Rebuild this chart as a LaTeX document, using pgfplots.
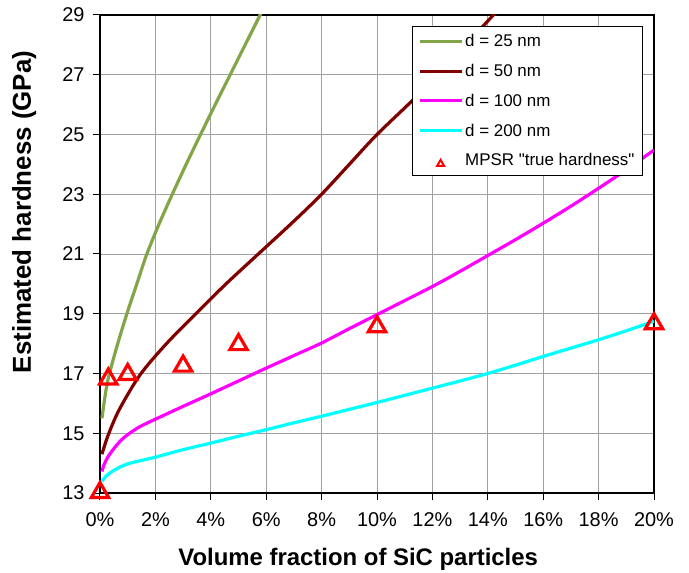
\documentclass[border=0pt]{standalone}
\usepackage{fontspec}
\setmainfont{Liberation Sans}[Ligatures=TeXOff]
\usepackage{pgfplots}
\pgfplotsset{compat=1.18}
\definecolor{olivec}{RGB}{130,165,72}
\definecolor{maroonc}{RGB}{128,0,0}
\definecolor{magc}{RGB}{255,0,255}
\definecolor{cyanc}{RGB}{0,255,255}
\definecolor{gridc}{RGB}{160,160,160}
\pgfplotsset{lineleg/.style={legend image code/.code={\draw[##1] (0bp,0bp) -- (42bp,0bp);}}}
\begin{document}
\begin{tikzpicture}
\begin{axis}[
  scale only axis, width=554bp, height=478bp,
  xmin=0, xmax=20, ymin=13, ymax=29,
  xtick={0,2,...,20}, ytick={13,15,...,29},
  xticklabels={0\%,2\%,4\%,6\%,8\%,10\%,12\%,14\%,16\%,18\%,20\%},
  /pgf/number format/assume math mode=true,
  grid=major, grid style={color=gridc, line width=0.8bp},
  axis line style={black, line width=1.6bp},
  tick align=outside, major tick length=7bp, tick pos=left,
  tick style={black, line width=1bp},
  tick label style={font=\fontsize{20}{20}\selectfont},
  xticklabel style={yshift=-9bp},
  yticklabel style={xshift=-5bp},
  xlabel={Volume fraction of SiC particles},
  xlabel style={font=\fontsize{24}{24}\selectfont\bfseries, at={(axis description cs:0.466,-0.139)}, anchor=center},
  ylabel={Estimated hardness (GPa)},
  ylabel style={font=\fontsize{26}{26}\selectfont\bfseries, at={(axis description cs:-0.137,0.588)}, anchor=center},
  clip mode=individual,
  legend style={at={(rel axis cs:0.98,0.977)}, anchor=north east, draw=black, line width=1bp, fill=white,
    font=\fontsize{17}{17}\selectfont, row sep=12bp, inner xsep=6bp, inner ysep=6bp},
  legend cell align=left,
]
\addplot[olivec, line width=3.2bp, smooth, lineleg] coordinates {
(0.07,15.5) (0.2,16.35) (0.33,16.96) (0.64,18.0) (0.96,18.97) (1.33,20.0) (1.68,20.97) (2.13,22.0) (2.61,23.0) (3.11,24.0) (3.63,25.0) (4.16,26.0) (4.70,27.0) (5.24,28.0) (5.78,29.0) (6.0,29.4)
};
\addlegendentry{d = 25 nm}
\addplot[maroonc, line width=3.2bp, smooth, lineleg] coordinates {
(0.07,14.3) (0.3,14.95) (0.7,15.8) (1.45,16.96) (2.4,18.0) (3.43,18.97) (4.55,20.0) (5.68,20.97) (7.0,22.1) (8.0,23.0) (9.0,24.0) (10.0,25.0) (11.4,26.25) (12.8,27.6) (14.2,29.0) (14.5,29.3)
};
\addlegendentry{d = 50 nm}
\addplot[magc, line width=3.2bp, smooth, lineleg] coordinates {
(0.07,13.72) (0.15,13.95) (0.3,14.23) (0.6,14.6) (0.9,14.88) (1.4,15.2) (2,15.47) (3,15.9) (4,16.32) (5,16.75) (6,17.18) (7,17.6) (8,18.02) (9,18.5) (10,18.97) (11,19.44) (12,19.91) (13,20.42) (14,20.95) (15,21.48) (16,22.03) (17,22.6) (18,23.2) (19,23.82) (20,24.48)
};
\addlegendentry{d = 100 nm}
\addplot[cyanc, line width=3.2bp, smooth, lineleg] coordinates {
(0.07,13.38) (0.2,13.55) (0.54,13.78) (1.02,13.98) (2,14.2) (3,14.45) (4,14.67) (5,14.9) (6,15.12) (7,15.35) (8,15.57) (9,15.8) (10,16.03) (11,16.27) (12,16.51) (13,16.75) (14,17.0) (15,17.28) (16,17.57) (17,17.85) (18,18.13) (19,18.43) (20,18.75)
};
\addlegendentry{d = 200 nm}
\addplot[only marks, red, mark=triangle, mark size=10bp, line width=3.2bp, mark options={solid, yshift=-2.5bp},
  legend image code/.code={\draw[red, line width=2bp] plot[mark=triangle, mark size=4bp] coordinates {(21bp,-1bp)};}] coordinates {
(0,13.1) (0.3,16.9) (1,17.05) (3,17.33) (5,18.05) (10,18.65) (20,18.75)
};
\addlegendentry{MPSR "true hardness"}
\end{axis}
\pgfresetboundingbox
\path ([shift={(-100bp,-80bp)}]current axis.south west) rectangle ([shift={(35bp,15bp)}]current axis.north east);
\end{tikzpicture}
\end{document}
